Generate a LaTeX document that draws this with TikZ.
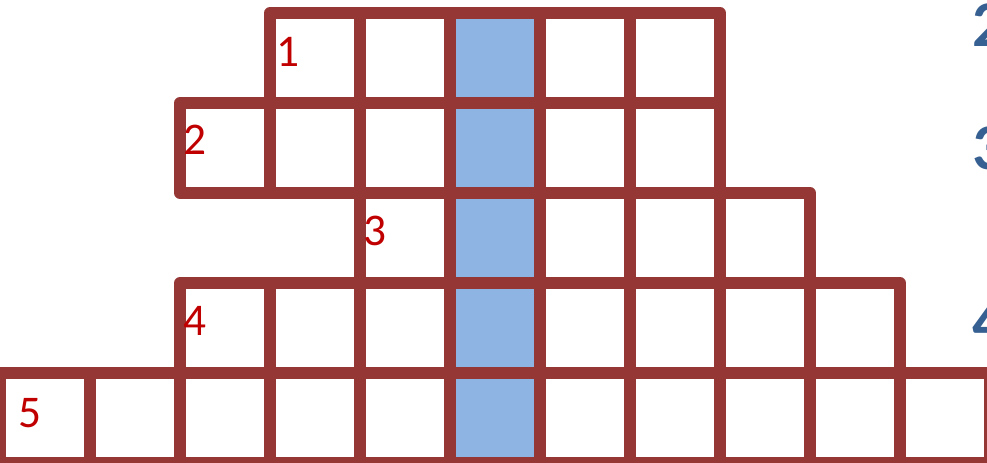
\documentclass[tikz,border=0pt]{standalone}
\usepackage{fontspec}
\setmainfont{Carlito}
\definecolor{gridred}{HTML}{953735}
\definecolor{cellblue}{HTML}{8EB4E3}
\definecolor{numred}{HTML}{C00000}
\definecolor{numblue}{HTML}{376092}
\tikzset{
  cellbox/.style={draw=gridred, line width=9pt, line join=round},
  rednum/.style={anchor=base west, inner sep=0pt, text=numred, font=\fontsize{34pt}{40pt}\selectfont},
  bluenum/.style={anchor=base west, inner sep=0pt, text=numblue, font=\bfseries\fontsize{49pt}{58pt}\selectfont}
}
\begin{document}
\begin{tikzpicture}[x=0.75pt, y=-0.75pt]
\useasboundingbox (0,0) rectangle (987,463);
% blue column
\fill[cellblue] (450,13) rectangle (540,463);
% rows
\foreach \x in {270,360,...,630} {\draw[cellbox] (\x,13) rectangle ++(90,90);}
\foreach \x in {180,270,...,630} {\draw[cellbox] (\x,103) rectangle ++(90,90);}
\foreach \x in {360,450,...,720} {\draw[cellbox] (\x,193) rectangle ++(90,90);}
\foreach \x in {180,270,...,810} {\draw[cellbox] (\x,283) rectangle ++(90,90);}
\foreach \x in {0,90,...,900} {\draw[cellbox] (\x,373) rectangle ++(90,90);}
% clue numbers
\node[rednum] (n1) at (276,67) {1};
\node[rednum] (n2) at (183,155) {2};
\node[rednum] (n3) at (363,245) {3};
\node[rednum] (n4) at (183,335) {4};
\node[rednum] (n5) at (18,427) {5};
% blue numbers at the right edge
\node[bluenum] (b2) at (972,47) {2};
\node[bluenum] (b3) at (972,170) {3};
\node[bluenum] (b4) at (972,343) {4};
\end{tikzpicture}
\end{document}
